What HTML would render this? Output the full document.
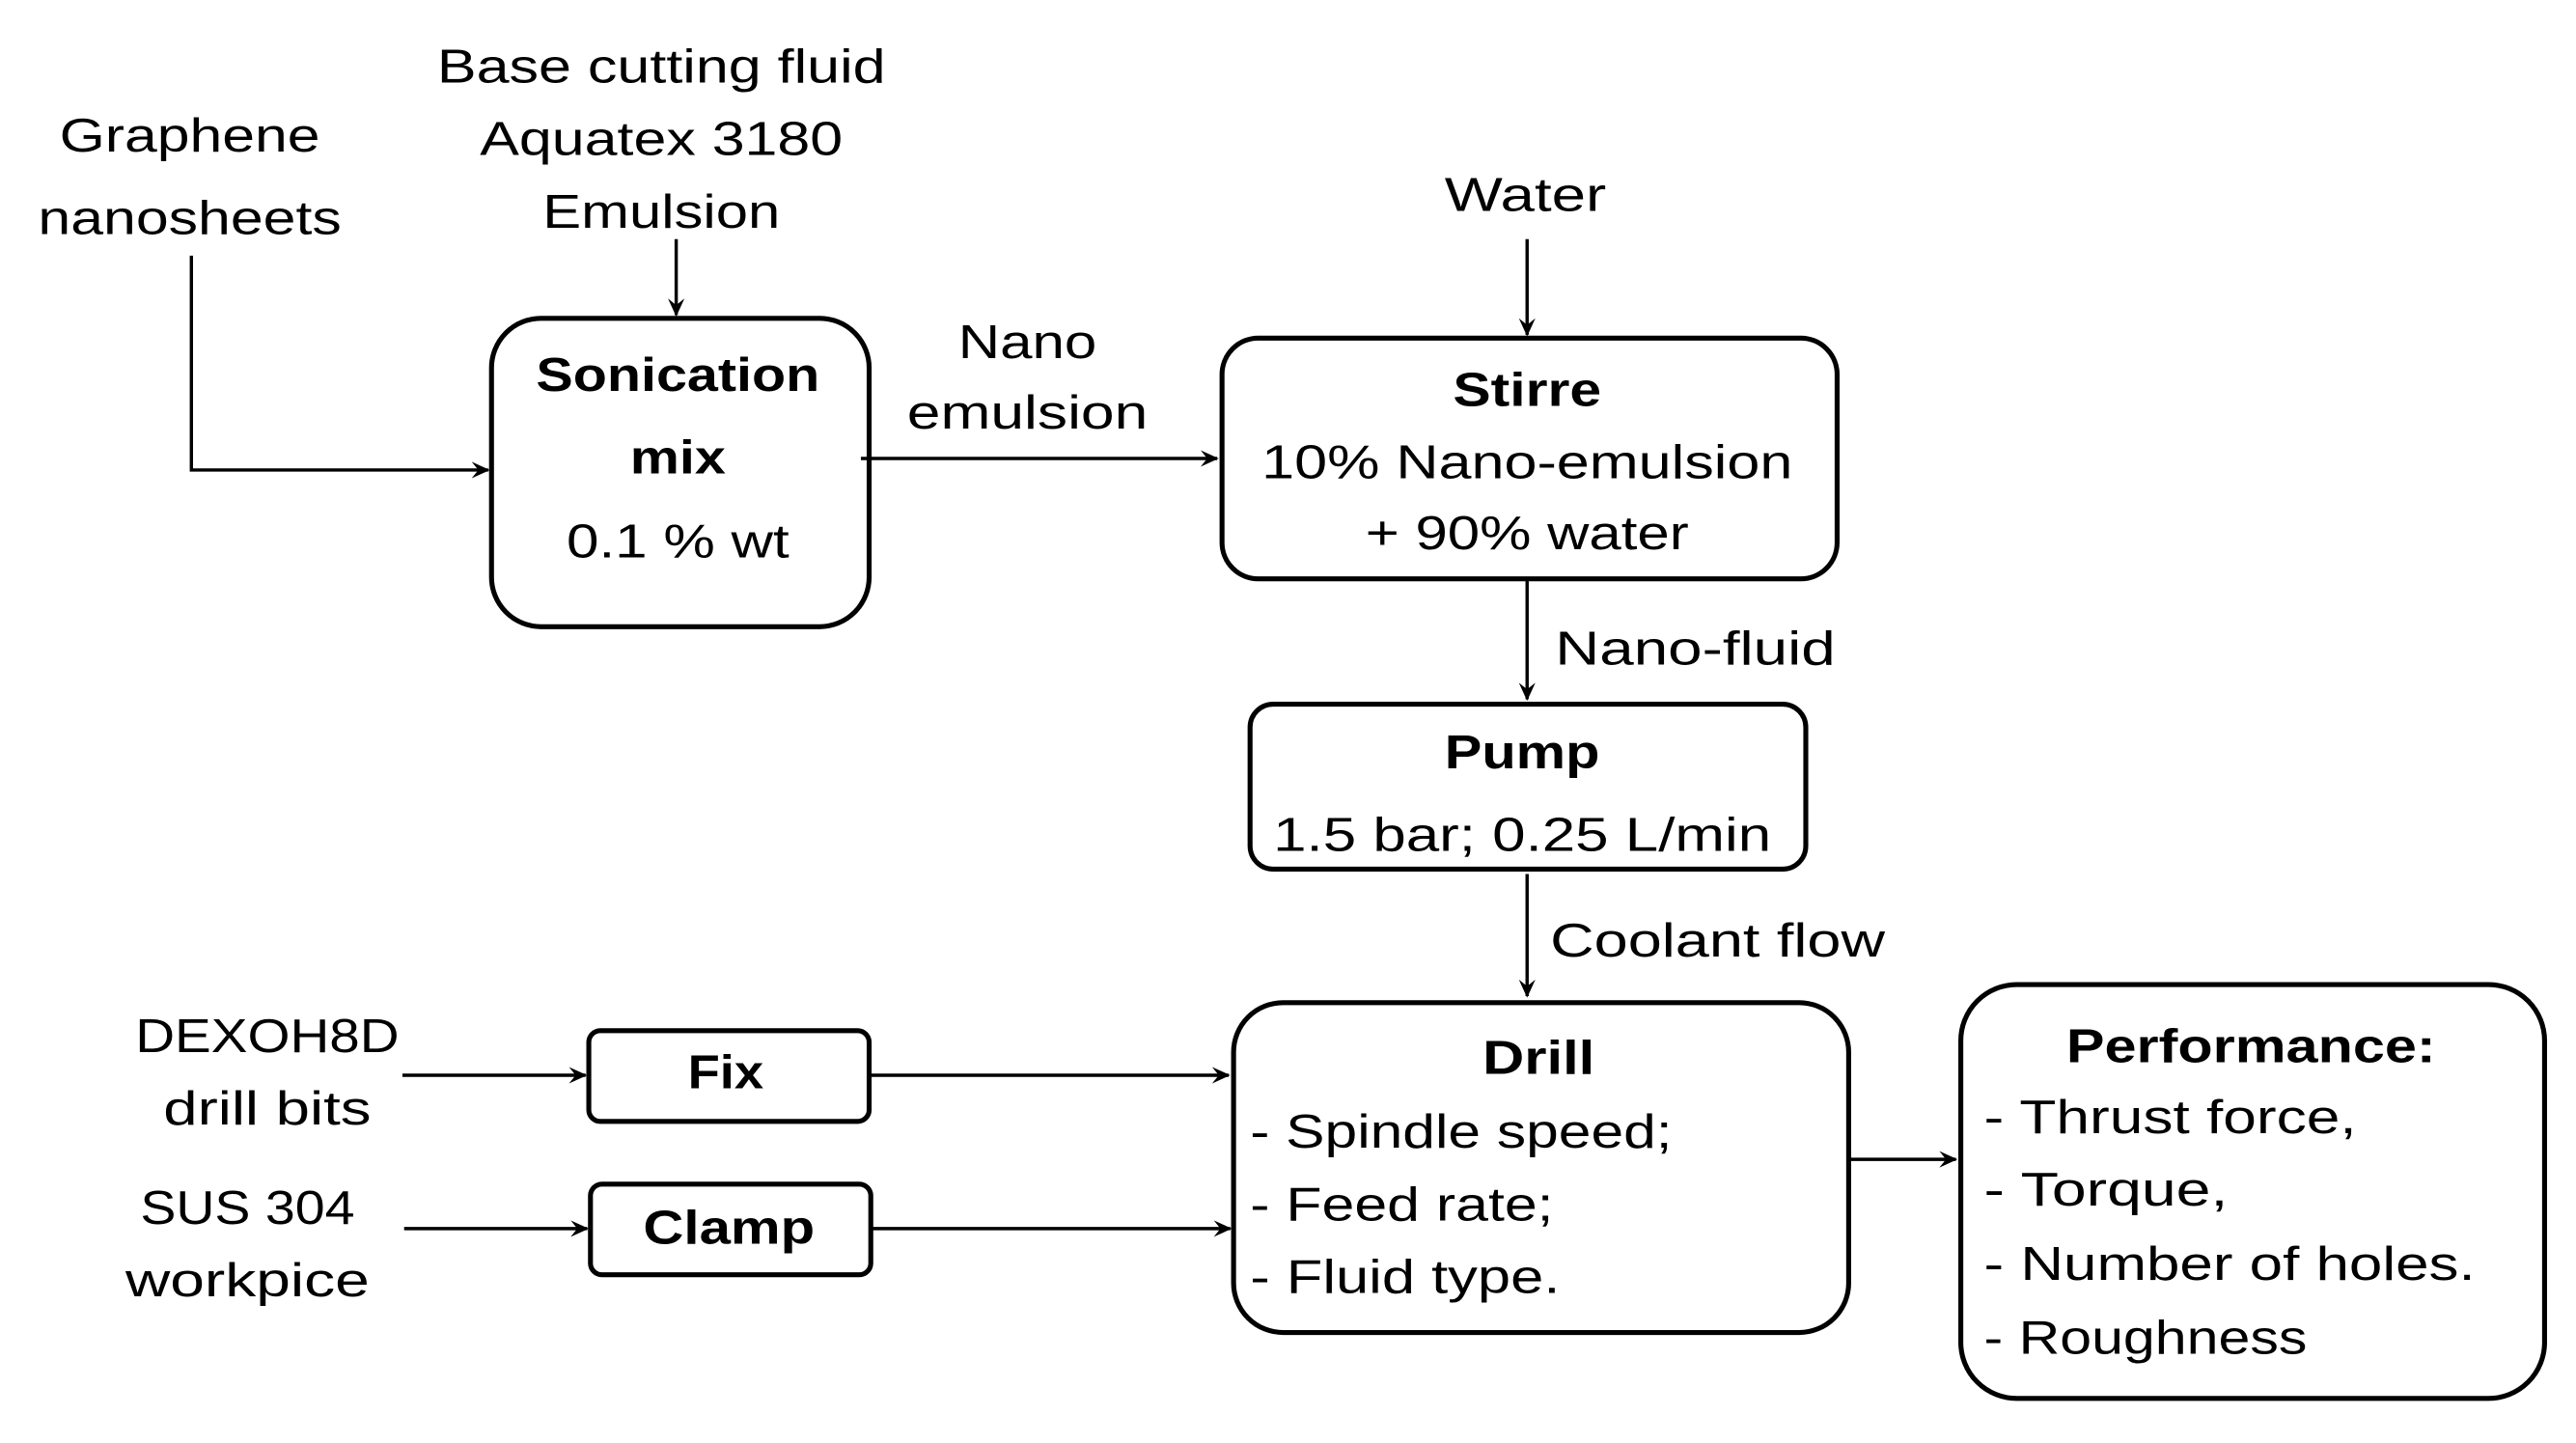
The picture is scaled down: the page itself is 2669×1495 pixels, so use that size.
<!DOCTYPE html>
<html><head><meta charset="utf-8"><style>
html,body{margin:0;padding:0;background:#fff;}
svg{display:block;}
text{font-family:"Liberation Sans",sans-serif;font-size:29px;fill:#000;}
.b{font-weight:bold;}
</style></head><body>
<svg width="2669" height="1495" viewBox="0 0 1562 875" xmlns="http://www.w3.org/2000/svg">
<defs><marker id="a" markerWidth="12" markerHeight="12" refX="10" refY="6" orient="auto" markerUnits="userSpaceOnUse"><path d="M0,1 L11,6 L0,11 L4,6 Z" fill="#000"/></marker></defs>
<g fill="none" stroke="#000" stroke-width="3">
<rect x="298" y="193" width="229" height="187" rx="30"/>
<rect x="741" y="205" width="373" height="146" rx="22"/>
<rect x="758" y="427" width="337" height="100" rx="14"/>
<rect x="748" y="608" width="373" height="200" rx="30"/>
<rect x="1189" y="597" width="354" height="251" rx="34"/>
<rect x="357" y="625" width="170" height="55" rx="7"/>
<rect x="358" y="718" width="170" height="55" rx="7"/>
</g>
<g fill="none" stroke="#000" stroke-width="2" marker-end="url(#a)">
<path d="M116,155 V285 H296"/>
<path d="M410,145 V191"/>
<path d="M522,278 H738"/>
<path d="M926,145 V203"/>
<path d="M926,351 V424"/>
<path d="M926,530 V604"/>
<path d="M1121,703 H1186"/>
<path d="M244,652 H355"/>
<path d="M527,652 H745"/>
<path d="M245,745 H356"/>
<path d="M528,745 H746"/>
</g>
<g text-anchor="middle">
<text x="115" y="92" textLength="158" lengthAdjust="spacingAndGlyphs">Graphene</text>
<text x="115" y="142" textLength="184" lengthAdjust="spacingAndGlyphs">nanosheets</text>
<text x="401" y="50" textLength="272" lengthAdjust="spacingAndGlyphs">Base cutting fluid</text>
<text x="401" y="94" textLength="220" lengthAdjust="spacingAndGlyphs">Aquatex 3180</text>
<text x="401" y="138" textLength="144" lengthAdjust="spacingAndGlyphs">Emulsion</text>
<text class="b" x="411" y="237" textLength="172" lengthAdjust="spacingAndGlyphs">Sonication</text>
<text class="b" x="411" y="287" textLength="58" lengthAdjust="spacingAndGlyphs">mix</text>
<text x="411" y="338" textLength="135" lengthAdjust="spacingAndGlyphs">0.1 % wt</text>
<text x="623" y="217" textLength="84" lengthAdjust="spacingAndGlyphs">Nano</text>
<text x="623" y="260" textLength="146" lengthAdjust="spacingAndGlyphs">emulsion</text>
<text x="925" y="128" textLength="98" lengthAdjust="spacingAndGlyphs">Water</text>
<text class="b" x="926" y="246" textLength="90" lengthAdjust="spacingAndGlyphs">Stirre</text>
<text x="926" y="290" textLength="322" lengthAdjust="spacingAndGlyphs">10% Nano-emulsion</text>
<text x="926" y="333" textLength="196" lengthAdjust="spacingAndGlyphs">+ 90% water</text>
<text class="b" x="923" y="466" textLength="94" lengthAdjust="spacingAndGlyphs">Pump</text>
<text x="923" y="516" textLength="302" lengthAdjust="spacingAndGlyphs">1.5 bar; 0.25 L/min</text>
<text class="b" x="933" y="651" textLength="68" lengthAdjust="spacingAndGlyphs">Drill</text>
<text class="b" x="1365" y="644" textLength="224" lengthAdjust="spacingAndGlyphs">Performance:</text>
<text x="162" y="638" textLength="160" lengthAdjust="spacingAndGlyphs">DEXOH8D</text>
<text x="162" y="682" textLength="126" lengthAdjust="spacingAndGlyphs">drill bits</text>
<text x="150" y="742" textLength="130" lengthAdjust="spacingAndGlyphs">SUS 304</text>
<text x="150" y="786" textLength="148" lengthAdjust="spacingAndGlyphs">workpice</text>
<text class="b" x="440" y="660" textLength="46" lengthAdjust="spacingAndGlyphs">Fix</text>
<text class="b" x="442" y="754" textLength="104" lengthAdjust="spacingAndGlyphs">Clamp</text>
</g>
<text x="943" y="403" textLength="170" lengthAdjust="spacingAndGlyphs">Nano-fluid</text>
<text x="940" y="580" textLength="203" lengthAdjust="spacingAndGlyphs">Coolant flow</text>
<text x="758" y="696" textLength="256" lengthAdjust="spacingAndGlyphs">- Spindle speed;</text>
<text x="758" y="740" textLength="184" lengthAdjust="spacingAndGlyphs">- Feed rate;</text>
<text x="758" y="784" textLength="188" lengthAdjust="spacingAndGlyphs">- Fluid type.</text>
<text x="1203" y="687" textLength="226" lengthAdjust="spacingAndGlyphs">- Thrust force,</text>
<text x="1203" y="731" textLength="148" lengthAdjust="spacingAndGlyphs">- Torque,</text>
<text x="1203" y="776" textLength="298" lengthAdjust="spacingAndGlyphs">- Number of holes.</text>
<text x="1203" y="821" textLength="196" lengthAdjust="spacingAndGlyphs">- Roughness</text>
</svg>
</body></html>
